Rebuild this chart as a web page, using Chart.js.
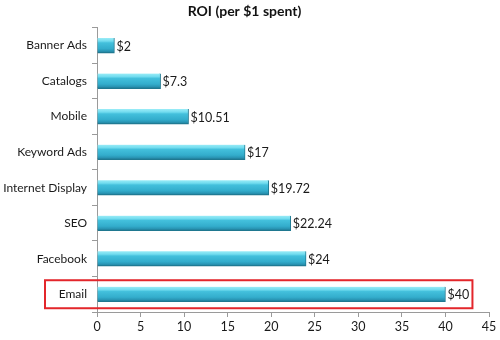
<!DOCTYPE html>
<html>
<head>
<meta charset="utf-8">
<style>
  html, body { margin: 0; padding: 0; background: #ffffff; }
  #wrap { width: 500px; height: 340px; position: relative; }
</style>
<script src="https://cdn.jsdelivr.net/npm/chart.js@4/dist/chart.umd.min.js"></script>
</head>
<body>
<div id="wrap"><canvas id="roi" width="500" height="340"></canvas></div>
<script>
// Return on investment per $1 spent, by marketing channel
const channels = ['Banner Ads', 'Catalogs', 'Mobile', 'Keyword Ads', 'Internet Display', 'SEO', 'Facebook', 'Email'];
const roiValues = [2, 7.3, 10.51, 17, 19.72, 22.24, 24, 40];
const valueLabels = ['$2', '$7.3', '$10.51', '$17', '$19.72', '$22.24', '$24', '$40'];
const xTicks = [0, 5, 10, 15, 20, 25, 30, 35, 40, 45];
const highlighted = 'Email';

const FONT = 'Lato, "Open Sans", sans-serif';
const BAR_THICK = 15;

// Vertical shading of each bar: light cyan top edge, darker underside
function barFill(ctx) {
  const chart = ctx.chart;
  const y = chart.scales && chart.scales.y;
  if (!y || ctx.dataIndex === undefined) return '#35b2d1';
  const c = y.getPixelForValue(ctx.dataIndex);
  if (!isFinite(c)) return '#35b2d1';
  const top = c - BAR_THICK / 2, bot = c + BAR_THICK / 2;
  const g = chart.ctx.createLinearGradient(0, top, 0, bot);
  g.addColorStop(0, '#9aecf7');
  g.addColorStop(0.2, '#72dcef');
  g.addColorStop(0.32, '#43c0dc');
  g.addColorStop(0.7, '#33adcc');
  g.addColorStop(0.88, '#2893b2');
  g.addColorStop(1, '#1d6f87');
  return g;
}

// Value labels at the end of each bar
const valueLabelPlugin = {
  id: 'valueLabels',
  afterDatasetsDraw(chart) {
    const { ctx } = chart;
    const meta = chart.getDatasetMeta(0);
    ctx.save();
    ctx.font = '12.5px ' + FONT;
    ctx.fillStyle = '#1a1a1a';
    ctx.textAlign = 'left';
    ctx.textBaseline = 'middle';
    meta.data.forEach((bar, i) => {
      ctx.fillText(valueLabels[i], bar.x + 2, bar.y + 1);
    });
    ctx.restore();
  }
};

// Red outline around the highlighted channel's row
const highlightPlugin = {
  id: 'highlightRow',
  afterDraw(chart) {
    const i = channels.indexOf(highlighted);
    if (i < 0) return;
    const { ctx, scales } = chart;
    const cy = scales.y.getPixelForValue(i);
    const right = scales.x.getPixelForValue(roiValues[i]) + 27;
    ctx.save();
    ctx.strokeStyle = '#e3262b';
    ctx.lineWidth = 2;
    ctx.strokeRect(45, cy - 14, right - 45, 28);
    ctx.restore();
  }
};

new Chart(document.getElementById('roi'), {
  type: 'bar',
  data: {
    labels: channels,
    datasets: [{
      data: roiValues,
      backgroundColor: barFill,
      borderColor: '#1f7890',
      borderWidth: { top: 0, bottom: 1, left: 0, right: 1 },
      borderSkipped: 'start',
      barThickness: BAR_THICK
    }]
  },
  options: {
    indexAxis: 'y',
    responsive: false,
    animation: false,
    devicePixelRatio: 1,
    layout: { padding: { left: 0, right: 11, top: 0, bottom: 0 } },
    plugins: {
      legend: { display: false },
      tooltip: { enabled: false },
      title: {
        display: true,
        text: 'ROI (per $1 spent)',
        color: '#111111',
        font: { family: FONT, size: 14, weight: 'bold' },
        padding: { top: 3, bottom: 8 }
      }
    },
    scales: {
      x: {
        min: 0,
        max: 45,
        afterBuildTicks(scale) { scale.ticks = xTicks.map(v => ({ value: v })); },
        afterFit(scale) { scale.height = 28; },
        grid: { drawOnChartArea: false, drawTicks: true, tickLength: 5, color: '#9a9a9a' },
        border: { display: true, color: '#9a9a9a' },
        ticks: { color: '#1a1a1a', font: { family: FONT, size: 12.5 }, padding: 2, maxRotation: 0 }
      },
      y: {
        afterFit(scale) { scale.width = 97; },
        grid: { drawOnChartArea: false, drawTicks: true, tickLength: 5, color: '#9a9a9a', offset: true },
        border: { display: true, color: '#9a9a9a' },
        ticks: { color: '#1a1a1a', font: { family: FONT, size: 12 }, padding: 5 }
      }
    }
  },
  plugins: [valueLabelPlugin, highlightPlugin]
});
</script>
</body>
</html>
